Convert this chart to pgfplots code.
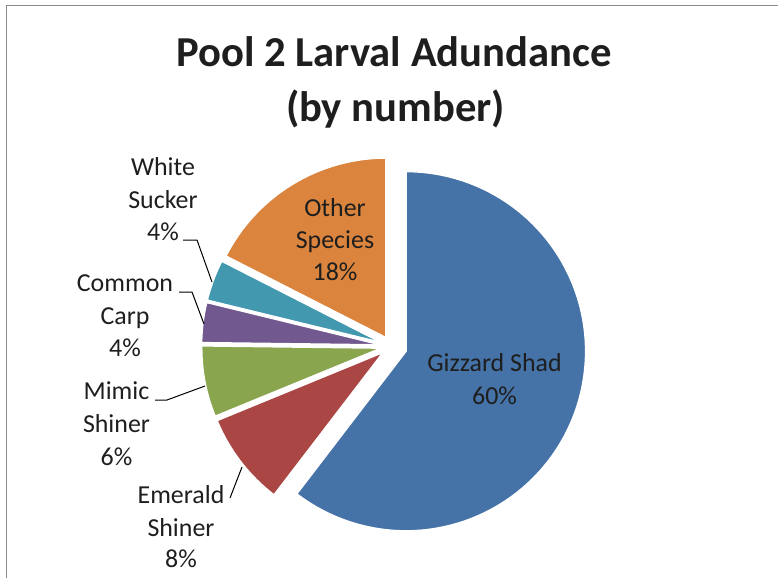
\documentclass[border=0pt]{standalone}
\usepackage{pgfplots}
\usepackage{pgfplotstable}
\pgfplotsset{compat=1.18}
\usepackage{fontspec}
\setmainfont{Carlito}

\definecolor{cBlue}{HTML}{4572A7}
\definecolor{cRed}{HTML}{AA4643}
\definecolor{cGreen}{HTML}{89A54E}
\definecolor{cPurple}{HTML}{71588F}
\definecolor{cTeal}{HTML}{4198AF}
\definecolor{cOrange}{HTML}{DB843D}
\definecolor{cText}{HTML}{1E1E1E}
\definecolor{cFrame}{HTML}{898989}

% slice values (percent), in clockwise order from 12 o'clock
\pgfplotstableread{
species value
GizzardShad 60.4
EmeraldShiner 8.4
MimicShiner 6.4
CommonCarp 3.6
WhiteSucker 3.7
OtherSpecies 17.5
}\piedata

\pgfplotstablegetelem{0}{value}\of\piedata \let\vA\pgfplotsretval
\pgfplotstablegetelem{1}{value}\of\piedata \let\vB\pgfplotsretval
\pgfplotstablegetelem{2}{value}\of\piedata \let\vC\pgfplotsretval
\pgfplotstablegetelem{3}{value}\of\piedata \let\vD\pgfplotsretval
\pgfplotstablegetelem{4}{value}\of\piedata \let\vE\pgfplotsretval
\pgfplotstablegetelem{5}{value}\of\piedata \let\vF\pgfplotsretval
\pgfmathsetmacro\tot{\vA+\vB+\vC+\vD+\vE+\vF}
\pgfmathsetmacro\aA{90}
\pgfmathsetmacro\aB{\aA-360*(\vA/\tot)}
\pgfmathsetmacro\aC{\aB-360*(\vB/\tot)}
\pgfmathsetmacro\aD{\aC-360*(\vC/\tot)}
\pgfmathsetmacro\aE{\aD-360*(\vD/\tot)}
\pgfmathsetmacro\aF{\aE-360*(\vE/\tot)}
\pgfmathsetmacro\aG{\aF-360*(\vF/\tot)}

\def\pieCX{391.2}
\def\pieCY{346.2}
\def\pieR{179.7}

% #1 start angle, #2 end angle (smaller), #3 colour, #4 explosion
\newcommand\pieslice[4]{%
  \pgfmathsetmacro\pmid{(#1+#2)/2}%
  \pgfmathsetmacro\ppx{\pieCX+#4*cos(\pmid)}%
  \pgfmathsetmacro\ppy{\pieCY-#4*sin(\pmid)}%
  \edef\tmp{\noexpand\addplot[fill=#3, draw=white, line width=1.6bp, line join=round, domain=#2:#1, samples=150]
    ({\ppx+\pieR*cos(x)},{\ppy-\pieR*sin(x)}) -- (axis cs:\ppx,\ppy) -- cycle;}%
  \tmp}

\tikzset{lbl/.style={text=cText, font=\fontsize{26}{31}\selectfont, inner sep=0pt, anchor=base},
         ttl/.style={text=cText, font=\bfseries\fontsize{42.8}{50}\selectfont, inner sep=0pt, anchor=base}}

\begin{document}
\begin{tikzpicture}
\begin{axis}[
  at={(0,0)}, anchor=south west,
  scale only axis, width=778bp, height=578bp,
  xmin=0, xmax=778, ymin=0, ymax=578, y dir=reverse,
  hide axis, clip=false,
]
% frame (left and top edges)
\draw[cFrame, line width=1.4bp] (axis cs:6.5,578) -- (axis cs:6.5,5.5) -- (axis cs:778,5.5);

\pieslice{\aA}{\aB}{cBlue}{15.6}
\pieslice{\aB}{\aC}{cRed}{10}
\pieslice{\aC}{\aD}{cGreen}{10}
\pieslice{\aD}{\aE}{cPurple}{10}
\pieslice{\aE}{\aF}{cTeal}{10}
\pieslice{\aF}{\aG}{cOrange}{10}

% title
\node[ttl] at (axis cs:394,66.7) {Pool 2 Larval Adundance};
\node[ttl] at (axis cs:395.5,121.7) {(by number)};

% leader lines
\draw[black, line width=1bp] (axis cs:183,240) -- (axis cs:197,240) -- (axis cs:212,282);
\draw[black, line width=1bp] (axis cs:179,292) -- (axis cs:192,292) -- (axis cs:204,324);
\draw[black, line width=1bp] (axis cs:155,400) -- (axis cs:167,400) -- (axis cs:205,386);
\draw[black, line width=1bp] (axis cs:230,498) -- (axis cs:242,467);

% labels
\node[lbl] at (axis cs:163,175) {White};
\node[lbl] at (axis cs:163,208.3) {Sucker};
\node[lbl] at (axis cs:163,240) {4\%};

\node[lbl] at (axis cs:125,291.7) {Common};
\node[lbl] at (axis cs:125,324) {Carp};
\node[lbl] at (axis cs:125,356.7) {4\%};

\node[lbl] at (axis cs:116.5,399) {Mimic};
\node[lbl] at (axis cs:116.5,432) {Shiner};
\node[lbl] at (axis cs:116.5,465) {6\%};

\node[lbl] at (axis cs:181,503) {Emerald};
\node[lbl] at (axis cs:181,536) {Shiner};
\node[lbl] at (axis cs:181,567) {8\%};

\node[lbl] at (axis cs:335,216.7) {Other};
\node[lbl] at (axis cs:335,248) {Species};
\node[lbl] at (axis cs:335,280) {18\%};

\node[lbl] at (axis cs:494.5,371.7) {Gizzard Shad};
\node[lbl] at (axis cs:494.5,404.5) {60\%};
\end{axis}
\pgfresetboundingbox
\path[use as bounding box] (0,0) rectangle (778bp,578bp);
\end{tikzpicture}
\end{document}
